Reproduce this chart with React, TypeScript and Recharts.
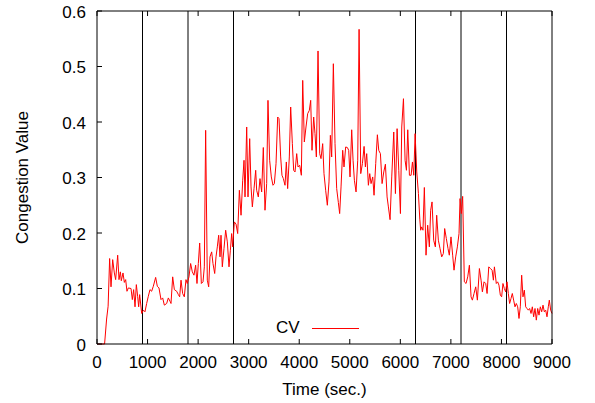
import React from 'react';
import { LineChart, Line, XAxis, YAxis, ReferenceLine, Legend } from 'recharts';

// sample times (sec.) and congestion values
const times = [
  0, 60, 120, 150, 190, 220, 250, 277, 310, 343, 369, 409, 435, 462, 481, 514, 541, 567, 593, 620,
  673, 699, 725, 752, 778, 804, 824, 844, 884, 917, 949, 982, 1015, 1048, 1081, 1114, 1160, 1193, 1226, 1266,
  1299, 1332, 1378, 1411, 1444, 1464, 1497, 1530, 1576, 1609, 1635, 1662, 1694, 1727, 1760, 1786, 1819, 1852, 1885, 1918,
  1951, 1978, 2004, 2031, 2064, 2097, 2123, 2149, 2182, 2209, 2235, 2268, 2294, 2328, 2354, 2380, 2407, 2433, 2453, 2479,
  2512, 2545, 2578, 2611, 2638, 2664, 2684, 2717, 2750, 2783, 2816, 2849, 2882, 2908, 2928, 2961, 2987, 3020, 3047, 3073,
  3106, 3139, 3158, 3191, 3224, 3257, 3290, 3323, 3356, 3382, 3415, 3448, 3481, 3508, 3541, 3574, 3600, 3633, 3659, 3686,
  3719, 3745, 3771, 3804, 3831, 3864, 3890, 3917, 3950, 3976, 4009, 4042, 4069, 4101, 4134, 4167, 4200, 4227, 4253, 4286,
  4312, 4339, 4372, 4405, 4431, 4464, 4490, 4523, 4556, 4589, 4616, 4642, 4675, 4708, 4741, 4774, 4800, 4827, 4860, 4886,
  4919, 4952, 4979, 5005, 5038, 5065, 5091, 5124, 5157, 5184, 5217, 5250, 5283, 5309, 5335, 5368, 5395, 5421, 5454, 5480,
  5513, 5546, 5573, 5606, 5639, 5672, 5705, 5738, 5764, 5797, 5830, 5870, 5903, 5936, 5969, 6002, 6028, 6062, 6094, 6121,
  6147, 6180, 6213, 6240, 6266, 6292, 6325, 6358, 6385, 6402, 6422, 6448, 6475, 6508, 6541, 6574, 6600, 6627, 6660, 6693,
  6719, 6752, 6785, 6818, 6851, 6877, 6910, 6943, 6969, 7002, 7035, 7062, 7095, 7128, 7161, 7181, 7207, 7233, 7266, 7300,
  7333, 7366, 7399, 7425, 7458, 7491, 7524, 7564, 7597, 7623, 7656, 7689, 7716, 7749, 7782, 7815, 7841, 7861, 7898, 7925,
  7951, 7978, 8004, 8030, 8057, 8083, 8110, 8136, 8162, 8189, 8215, 8241, 8268, 8294, 8321, 8347, 8373, 8400, 8426, 8453,
  8479, 8505, 8532, 8558, 8585, 8611, 8637, 8664, 8690, 8717, 8743, 8769, 8796, 8822, 8848, 8875, 8901, 8927, 8947, 8974,
  9000,
];

const cv = [
  0, 0, 0, 0, 0.045, 0.068, 0.154, 0.103, 0.152, 0.128, 0.116, 0.16, 0.116, 0.13, 0.114, 0.128, 0.111, 0.116, 0.095, 0.101,
  0.1, 0.08, 0.098, 0.067, 0.107, 0.086, 0.067, 0.089, 0.055, 0.061, 0.058, 0.073, 0.086, 0.098, 0.095, 0.104, 0.12, 0.104, 0.101, 0.08,
  0.083, 0.07, 0.073, 0.083, 0.077, 0.073, 0.121, 0.098, 0.095, 0.089, 0.085, 0.115, 0.091, 0.085, 0.116, 0.109, 0.121, 0.145, 0.13, 0.124,
  0.142, 0.109, 0.145, 0.182, 0.109, 0.112, 0.139, 0.385, 0.115, 0.103, 0.157, 0.166, 0.145, 0.127, 0.157, 0.175, 0.196, 0.157, 0.196, 0.139,
  0.172, 0.205, 0.184, 0.139, 0.169, 0.199, 0.175, 0.22, 0.216, 0.199, 0.277, 0.232, 0.295, 0.331, 0.265, 0.391, 0.265, 0.37, 0.283, 0.247,
  0.28, 0.313, 0.277, 0.265, 0.298, 0.274, 0.354, 0.241, 0.289, 0.439, 0.331, 0.301, 0.286, 0.289, 0.325, 0.409, 0.406, 0.337, 0.304, 0.298,
  0.286, 0.328, 0.28, 0.337, 0.427, 0.361, 0.313, 0.31, 0.343, 0.319, 0.322, 0.304, 0.475, 0.364, 0.391, 0.415, 0.421, 0.439, 0.349, 0.409,
  0.379, 0.337, 0.528, 0.343, 0.334, 0.361, 0.307, 0.277, 0.25, 0.292, 0.376, 0.337, 0.505, 0.361, 0.28, 0.255, 0.235, 0.283, 0.349, 0.319,
  0.355, 0.354, 0.349, 0.301, 0.386, 0.331, 0.295, 0.274, 0.331, 0.567, 0.307, 0.325, 0.356, 0.319, 0.343, 0.286, 0.307, 0.289, 0.301, 0.268,
  0.325, 0.377, 0.349, 0.343, 0.289, 0.31, 0.324, 0.265, 0.247, 0.224, 0.301, 0.382, 0.271, 0.388, 0.313, 0.235, 0.391, 0.442, 0.331, 0.313,
  0.386, 0.304, 0.304, 0.328, 0.304, 0.379, 0.31, 0.271, 0.225, 0.205, 0.211, 0.205, 0.282, 0.16, 0.214, 0.175, 0.241, 0.256, 0.187, 0.175,
  0.232, 0.187, 0.172, 0.157, 0.163, 0.208, 0.19, 0.172, 0.16, 0.193, 0.16, 0.133, 0.157, 0.175, 0.199, 0.262, 0.235, 0.266, 0.112, 0.109,
  0.121, 0.142, 0.085, 0.079, 0.091, 0.103, 0.079, 0.136, 0.115, 0.094, 0.112, 0.109, 0.091, 0.139, 0.136, 0.133, 0.115, 0.139, 0.109, 0.112,
  0.106, 0.088, 0.085, 0.109, 0.1, 0.094, 0.112, 0.091, 0.073, 0.082, 0.091, 0.079, 0.067, 0.073, 0.067, 0.046, 0.067, 0.124, 0.085, 0.097,
  0.067, 0.064, 0.061, 0.064, 0.055, 0.067, 0.049, 0.064, 0.043, 0.064, 0.052, 0.067, 0.058, 0.07, 0.058, 0.061, 0.049, 0.067, 0.079, 0.061,
  0.055,
];

const xTicks = [0, 1000, 2000, 3000, 4000, 5000, 6000, 7000, 8000, 9000];
const yTicks = [0, 0.1, 0.2, 0.3, 0.4, 0.5, 0.6];
const phaseBoundaries = [900, 1800, 2700, 6300, 7200, 8100];

const data = times.map((t, i) => ({ t, cv: cv[i] }));

const FONT = '"Liberation Sans", Arial, Helvetica, sans-serif';
const fmtY = (v: number) => (v === 0 ? '0' : v.toFixed(1));

const BottomTick = (props: any) => {
  const { x, y, payload } = props;
  return (
    <g>
      <line x1={x} y1={y} x2={x} y2={y - 5} stroke="#000" />
      <text x={x} y={y + 24} textAnchor="middle" fontSize={17} fontFamily={FONT} fill="#000">
        {payload.value}
      </text>
    </g>
  );
};

const TopTick = (props: any) => {
  const { x, y } = props;
  return <line x1={x} y1={y} x2={x} y2={y + 5} stroke="#000" />;
};

const LeftTick = (props: any) => {
  const { x, y, payload } = props;
  return (
    <g>
      <line x1={x} y1={y} x2={x + 5} y2={y} stroke="#000" />
      <text x={x - 11} y={y + 6.5} textAnchor="end" fontSize={17} fontFamily={FONT} fill="#000">
        {fmtY(payload.value)}
      </text>
    </g>
  );
};

const RightTick = (props: any) => {
  const { x, y } = props;
  return <line x1={x} y1={y} x2={x - 5} y2={y} stroke="#000" />;
};

const CvLegend = () => (
  <div style={{ display: 'flex', alignItems: 'center', fontFamily: FONT, fontSize: 17, color: '#000' }}>
    <span>CV</span>
    <span style={{ display: 'inline-block', width: 47, borderTop: '1px solid #ff0000', marginLeft: 12 }} />
  </div>
);

export default function App() {
  return (
    <div style={{ position: 'absolute', left: 0, top: 0 }}>
      <LineChart width={595} height={403} data={data} margin={{ top: 0, right: 0, bottom: 0, left: 0 }}>
        <XAxis
          dataKey="t"
          type="number"
          domain={[0, 9000]}
          ticks={xTicks}
          interval={0}
          height={59}
          tickSize={0}
          tickMargin={0}
          tickLine={false}
          tick={<BottomTick />}
          axisLine={{ stroke: '#000' }}
          label={{
            content: (p: any) => (
              <text
                x={p.viewBox.x + p.viewBox.width / 2}
                y={395}
                textAnchor="middle"
                fontSize={17}
                fontFamily={FONT}
                fill="#000"
              >
                Time (sec.)
              </text>
            ),
          }}
        />
        <XAxis
          xAxisId="top"
          orientation="top"
          dataKey="t"
          type="number"
          domain={[0, 9000]}
          ticks={xTicks}
          interval={0}
          height={11}
          tickSize={0}
          tickMargin={0}
          tickLine={false}
          tick={<TopTick />}
          axisLine={{ stroke: '#000' }}
        />
        <YAxis
          type="number"
          domain={[0, 0.6]}
          ticks={yTicks}
          interval={0}
          width={97}
          tickSize={0}
          tickMargin={0}
          tickLine={false}
          tick={<LeftTick />}
          axisLine={{ stroke: '#000' }}
          label={{
            content: (p: any) => {
              const cy = p.viewBox.y + p.viewBox.height / 2;
              return (
                <text
                  x={28}
                  y={cy}
                  transform={`rotate(-90 28 ${cy})`}
                  textAnchor="middle"
                  fontSize={17}
                  fontFamily={FONT}
                  fill="#000"
                >
                  Congestion Value
                </text>
              );
            },
          }}
        />
        <YAxis
          yAxisId="right"
          orientation="right"
          type="number"
          domain={[0, 0.6]}
          ticks={yTicks}
          interval={0}
          width={43}
          tickSize={0}
          tickMargin={0}
          tickLine={false}
          tick={<RightTick />}
          axisLine={{ stroke: '#000' }}
        />
        {phaseBoundaries.map((b) => (
          <ReferenceLine key={b} x={b} stroke="#000" strokeWidth={1} />
        ))}
        <Legend
          layout="horizontal"
          verticalAlign="middle"
          align="center"
          content={<CvLegend />}
          wrapperStyle={{ position: 'absolute', left: 276, top: 318, width: 'auto', height: 'auto' }}
        />
        <Line
          type="linear"
          dataKey="cv"
          stroke="#ff0000"
          strokeWidth={1}
          dot={false}
          isAnimationActive={false}
        />
      </LineChart>
    </div>
  );
}
